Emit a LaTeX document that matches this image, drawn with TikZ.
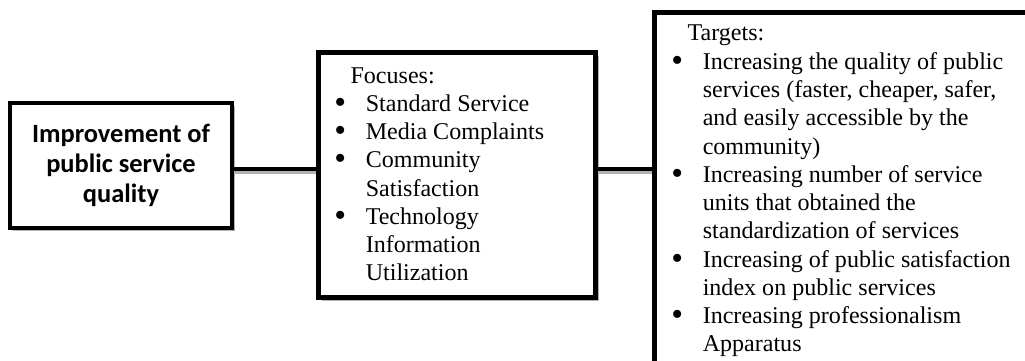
\documentclass[tikz,border=0pt]{standalone}
\usepackage{graphicx}
\usepackage{fontspec}
\setmainfont{Liberation Serif}
\newfontfamily\calibri{Carlito}
\usetikzlibrary{shadows}
\newcommand\listdot{\raisebox{-1.4pt}[0pt][0pt]{\scalebox{1.4}{\textbullet}}}
\tikzset{
    panel/.style ={
        draw=black,
        fill=white,
        line width=3.3pt,
        drop shadow={shadow xshift=2.4pt, shadow yshift=-2.4pt, fill=gray!60, opacity=1}
    },
    listtext/.style ={
        anchor=base west,
        inner sep=0pt,
        font=\fontsize{17.1}{20.1}\selectfont
    },
    link/.style ={
        line width=3.3pt,
        preaction={draw=gray!60, line width=3.3pt, transform canvas={yshift=-1.8pt}}
    }
}

\begin{document}
\begin{tikzpicture}[x=0.025cm, y=-0.025cm]
    \useasboundingbox (0,0) rectangle (1025,361);
    \clip (0,0) rectangle (1025,361);
    % boxes
    \node[panel, minimum width=5.55cm, minimum height=3.125cm, align=center,
          font=\calibri\bfseries\fontsize{18.8}{21.5}\selectfont] (quality) at (121,165.5)
          {Improvement of\\public service\\quality};
    \node[panel, anchor=north west, minimum width=6.925cm, minimum height=6.125cm] (focus) at (316,50) {};
    \node[panel, anchor=north west, minimum width=11cm, minimum height=10cm] (targets) at (652,10) {};
    % connectors
    \coordinate (axis) at (0,169);
    \draw[link] (quality.east |- axis) -- (focus.west |- axis);
    \draw[link] (focus.east |- axis) -- (targets.west |- axis);
    % lists
    \node[listtext] (focuslist) at (334,83) {%
        \begin{tabular}[t]{@{}p{22.4pt}@{}l@{}}
        \multicolumn{2}{@{\hspace{11.6pt}}l@{}}{Focuses:}\\
        \listdot & Standard Service\\
        \listdot & Media Complaints\\
        \listdot & Community\\
                 & Satisfaction\\
        \listdot & Technology\\
                 & Information\\
                 & Utilization
        \end{tabular}};
    \node[listtext] (targetlist) at (671,41) {%
        \begin{tabular}[t]{@{}p{22.4pt}@{}l@{}}
        \multicolumn{2}{@{\hspace{11.6pt}}l@{}}{Targets:}\\
        \listdot & Increasing the quality of public\\
                 & services (faster, cheaper, safer,\\
                 & and easily accessible by the\\
                 & community)\\
        \listdot & Increasing number of service\\
                 & units that obtained the\\
                 & standardization of services\\
        \listdot & Increasing of public satisfaction\\
                 & index on public services\\
        \listdot & Increasing professionalism\\
                 & Apparatus
        \end{tabular}};
\end{tikzpicture}
\end{document}
